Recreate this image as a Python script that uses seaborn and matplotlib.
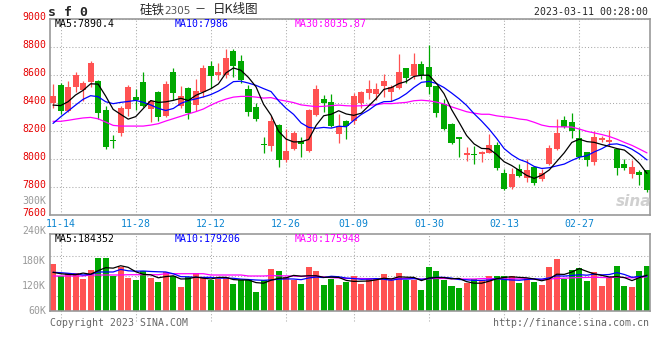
import numpy as np
import pandas as pd
import matplotlib
matplotlib.use("Agg")
import matplotlib.pyplot as plt
import seaborn as sns
from matplotlib.transforms import offset_copy

# ---- daily candles (sf2305), 80 sessions from 11-11 to 03-10 ----
open_ = [8400, 8526, 8340, 8514, 8493, 8550, 8555, 8348, 8128, 8186,
         8357, 8443, 8548, 8352, 8476, 8307, 8619, 8379, 8505, 8386,
         8479, 8662, 8600, 8595, 8771, 8698, 8498, 8369, 8103, 8093,
         8240, 7993, 8069, 8126, 8055, 8312, 8426, 8405, 8176, 8269,
         8269, 8398, 8469, 8462, 8519, 8476, 8507, 8648, 8590, 8676,
         8655, 8519, 8390, 8248, 8155, 8029, 8036, 8036, 8043, 8098,
         7898, 7798, 7926, 7864, 7940, 7855, 7962, 8069, 8276, 8262,
         8148, 8048, 7979, 8133, 8119, 8069, 7962, 7893, 7905, 7919]
high = [8533, 8540, 8555, 8619, 8552, 8700, 8560, 8376, 8169, 8379,
        8524, 8500, 8619, 8419, 8483, 8555, 8650, 8519, 8514, 8569,
        8669, 8698, 8683, 8783, 8783, 8740, 8526, 8395, 8155, 8305,
        8245, 8212, 8198, 8155, 8355, 8526, 8455, 8462, 8319, 8274,
        8469, 8483, 8562, 8540, 8605, 8526, 8748, 8648, 8755, 8698,
        8812, 8519, 8426, 8255, 8155, 8083, 8090, 8057, 8176, 8119,
        7926, 7933, 7962, 7998, 7948, 7926, 8098, 8283, 8305, 8326,
        8221, 8048, 8198, 8162, 8205, 8069, 7998, 7991, 7919, 7919]
low = [8360, 8319, 8331, 8474, 8414, 8510, 8281, 8071, 8074, 8164,
       8305, 8350, 8370, 8264, 8271, 8300, 8417, 8360, 8281, 8343,
       8443, 8502, 8562, 8574, 8586, 8543, 8307, 8271, 8043, 8057,
       7943, 7979, 8060, 8014, 8050, 8305, 8333, 8226, 8112, 8143,
       8245, 8362, 8426, 8419, 8440, 8412, 8500, 8540, 8569, 8569,
       8462, 8300, 8205, 8105, 8014, 7983, 7962, 7976, 8043, 7919,
       7776, 7786, 7869, 7833, 7812, 7840, 7955, 8062, 8217, 8148,
       7998, 7948, 7955, 8119, 8090, 7883, 7919, 7864, 7812, 7764]
close = [8448, 8340, 8512, 8600, 8540, 8683, 8329, 8086, 8124, 8362,
         8512, 8419, 8374, 8410, 8295, 8533, 8471, 8448, 8329, 8483,
         8648, 8593, 8619, 8719, 8662, 8564, 8336, 8286, 8098, 8269,
         7993, 8055, 8183, 8107, 8348, 8498, 8398, 8236, 8233, 8233,
         8448, 8476, 8498, 8498, 8555, 8512, 8619, 8576, 8676, 8598,
         8512, 8326, 8212, 8112, 8140, 8041, 8024, 8050, 8098, 7936,
         7783, 7890, 7876, 7919, 7829, 7898, 8076, 8183, 8226, 8198,
         8014, 7990, 8155, 8148, 8133, 7936, 7936, 7940, 7886, 7776]
volume = [242400, 180100, 195700, 193600, 164500, 211200, 273500, 273500, 181700, 226800,
          169700, 159300, 206000, 169700, 149000, 200900, 180100, 123000, 174900, 195700,
          169700, 159300, 164500, 174900, 138600, 159300, 159300, 97100, 159300, 216400,
          206000, 174900, 159300, 140100, 226800, 206000, 133400, 164500, 133400, 149000,
          180100, 138600, 169700, 164500, 190500, 159300, 195700, 159300, 159300, 107400,
          226800, 206000, 159300, 128200, 117800, 143800, 164500, 159300, 180100, 180100,
          180100, 180100, 143800, 169700, 149000, 133400, 226800, 268300, 164500, 211200,
          221600, 154100, 200900, 128200, 169700, 232000, 128200, 123000, 206000, 232000]

# moving averages before the window fills (older data not shown)
ma5_head = [8383, 8379, 8407, 8455]
ma10_head = [8252, 8298, 8340, 8383, 8424, 8450, 8443, 8407, 8393]
ma30_head = [8267, 8267, 8274, 8283, 8291, 8295, 8285, 8262, 8238, 8233,
             8233, 8233, 8233, 8240, 8250, 8269, 8286, 8303, 8320, 8336,
             8355, 8383, 8407, 8426, 8440, 8445, 8445, 8440, 8433]
vma5_head = [199300, 192000, 188400, 186800]
vma10_head = [199300, 197200, 194100, 190500, 185300, 188400, 200900, 200900, 200900]
vma30_head = [180100] * 5 + [185300] * 5 + [186800] * 5 + [192000] * 6 + [185300] * 5 + [180100] * 3

tick_idx = [1, 11, 21, 31, 40, 50, 60, 70]
tick_labels = ["11-14", "11-28", "12-12", "12-26", "01-09", "01-30", "02-13", "02-27"]
price_ticks = [7600, 7800, 8000, 8200, 8400, 8600, 8800, 9000]


def with_head(series, window, head):
    ma = pd.Series(series, dtype=float).rolling(window).mean()
    ma.iloc[:len(head)] = head
    return ma.values


RED = "#ff5252"
GREEN = "#00a800"
GRID = "#aaaaaa"
FRAME = "#999999"
W, H = 660, 360
CJK = ["Noto Sans CJK SC", "DejaVu Sans"]

sns.set_style("white")
plt.rcParams["font.family"] = ["DejaVu Sans Mono", "Noto Sans CJK SC"]

fig = plt.figure(figsize=(6.6, 3.6), dpi=100)
ax = fig.add_axes([50 / W, (H - 214.7) / H, 600 / W, (214.7 - 18.7) / H])
axv = fig.add_axes([50 / W, (H - 310.7) / H, 600 / W, (310.7 - 234.3) / H])

x = np.arange(len(close))
o = np.array(open_)
c = np.array(close)
up = c > o
colors = np.where(up, RED, GREEN)

# candles
ax.vlines(x, low, high, colors=colors, lw=0.9, zorder=2)
ax.bar(x, np.maximum(np.abs(c - o), 7), bottom=np.minimum(o, c), width=0.8,
       color=colors, lw=0, zorder=3)

for ma, col in [(with_head(close, 30, ma30_head), "#ff00ff"),
                (with_head(close, 10, ma10_head), "#0000ff"),
                (with_head(close, 5, ma5_head), "black")]:
    sns.lineplot(x=x, y=ma, ax=ax, color=col, lw=0.9, zorder=4)

ax.set_xlim(-0.4, 79.4)
ax.set_ylim(7600, 9000)
ax.set_yticks(price_ticks)
ax.set_yticklabels([])
ax.set_xticks(tick_idx)
ax.set_xticklabels(tick_labels, color="#0a84d0", fontsize=7.1)
ax.tick_params(length=0)
ax.tick_params(axis="x", pad=3)
ax.grid(True, color=GRID, ls=(0, (1, 2)), lw=0.75)
ax.set_axisbelow(True)

lab_tr = offset_copy(ax.get_yaxis_transform(), fig=fig, x=-4, y=2, units="dots")
for v in price_ticks:
    ax.text(0, v, str(v), transform=lab_tr, ha="right", va="center",
            color="#e60000", fontsize=7.1)
ax.text(0, 7700, "300K", transform=offset_copy(ax.get_yaxis_transform(), fig=fig, x=-4, units="dots"),
        ha="right", va="center", color="#999999", fontsize=7.1)

# volume
vol_df = pd.DataFrame({"i": x, "vol": volume, "dir": np.where(up, "up", "down")})
sns.barplot(data=vol_df, x="i", y="vol", hue="dir", palette={"up": RED, "down": GREEN},
            dodge=False, native_scale=True, width=0.8, saturation=1, errorbar=None,
            legend=False, linewidth=0, ax=axv, zorder=2)
for ma, col in [(with_head(volume, 30, vma30_head), "#ff00ff"),
                (with_head(volume, 10, vma10_head), "#0000ff"),
                (with_head(volume, 5, vma5_head), "black")]:
    sns.lineplot(x=x, y=ma, ax=axv, color=col, lw=0.9, zorder=4)

axv.set_xlim(-0.4, 79.4)
axv.set_ylim(0, 396500)
axv.set_xticks([])
axv.set_yticks([])
axv.set_xlabel("")
axv.set_ylabel("")
for v in [77900, 181700, 285500]:
    axv.axhline(v, color=GRID, ls=(0, (1, 2)), lw=0.75, zorder=1)
for t in tick_idx:
    axv.axvline(t, ymin=-0.13, ymax=1, color=GRID, ls=(0, (1, 2)), lw=0.75,
                zorder=1, clip_on=False)
vol_tr = offset_copy(axv.get_yaxis_transform(), fig=fig, x=-4, units="dots")
for v, s in [(415200, "240K"), (259500, "180K"), (129750, "120K"), (-1500, "60K")]:
    axv.text(0, v, s, transform=vol_tr, ha="right", va="center", color="#999999", fontsize=7.1)

for a in (ax, axv):
    for sp in a.spines.values():
        sp.set_color(FRAME)
        sp.set_linewidth(1.2)


def ftext(px, py, s, **kw):
    fig.text(px / W, 1 - py / H, s, va="center", **kw)


ftext(48, 12, "s f 0", fontsize=9.5, fontweight="bold")
ftext(140, 10, "硅铁", fontsize=9, family=CJK)
ftext(164, 10.5, "2305", fontsize=7.5, color="#555555", family="DejaVu Sans")
ftext(200, 10, "－", ha="center", fontsize=8, family=CJK)
ftext(213, 10, "日K线图", fontsize=9, family=CJK)
ftext(648, 12, "2023-03-11 00:28:00", ha="right", fontsize=7.1)
ftext(55, 24, "MA5:7890.4", fontsize=7.1, color="black")
ftext(175, 24, "MA10:7986", fontsize=7.1, color="#0000ff")
ftext(295, 24, "MA30:8035.87", fontsize=7.1, color="#ff00ff")
ftext(55, 238.5, "MA5:184352", fontsize=7.1, color="black")
ftext(175, 238.5, "MA10:179206", fontsize=7.1, color="#0000ff")
ftext(295, 238.5, "MA30:175948", fontsize=7.1, color="#ff00ff")
ftext(50, 323.5, "Copyright 2023 SINA.COM", fontsize=7.1, color="#666666")
ftext(649, 323.5, "http://finance.sina.com.cn", ha="right", fontsize=7.1, color="#666666")
ftext(634, 201, "sina", ha="center", fontsize=11, color="#d0d0d0",
      fontweight="bold", style="italic", family="DejaVu Sans")

fig.savefig("out.png", dpi=100)
